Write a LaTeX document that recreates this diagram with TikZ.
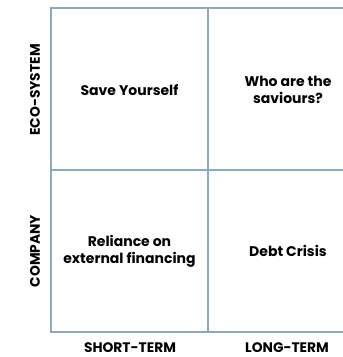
\documentclass[tikz,border=0pt]{standalone}
\usepackage{fontspec}
\setmainfont{Poppins}
\usetikzlibrary{positioning}
\definecolor{gridblue}{HTML}{8AAAC0}
\tikzset{
  % lines of the 2x2 matrix
  grid line/.style={draw=gridblue,line width=2.8pt},
  % text set in the middle of a cell
  cell text/.style={font=\bfseries\fontsize{14}{17}\selectfont,align=center},
  % labels along the two axes
  axis label/.style={font=\bfseries\fontsize{13.8}{16}\selectfont},
}

\begin{document}
\begin{tikzpicture}[x=1pt,y=-1pt]
\useasboundingbox (0,0) rectangle (343,357);
\coordinate (TL) at (51,8);
\coordinate (TM) at (208,8);
\coordinate (TR) at (343,8);
\coordinate (ML) at (51,170);
\coordinate (MR) at (343,170);
\coordinate (BL) at (51,332);
\coordinate (BM) at (208,332);
\coordinate (BR) at (343,332);
\draw [grid line](TR)--(TL)--(BL)--(BR);
\draw [grid line](ML)--(MR);
\draw [grid line](TM)--(BM);
\node[cell text] (save) at (129.5,90) {Save Yourself};
\node[cell text] (saviours) at (288,90) {Who are the\\saviours?};
\node[cell text] (reliance) at (129.5,251) {Reliance on\\external financing};
\node[cell text] (debt) at (288,251) {Debt Crisis};
\node[axis label,rotate=90] (eco) at (35,90) {ECO-SYSTEM};
\node[axis label,rotate=90] (company) at (35,251) {COMPANY};
\node[axis label] (short) at (130,348) {SHORT-TERM};
\node[axis label] (long) at (287,348) {LONG-TERM};
\end{tikzpicture}
\end{document}
